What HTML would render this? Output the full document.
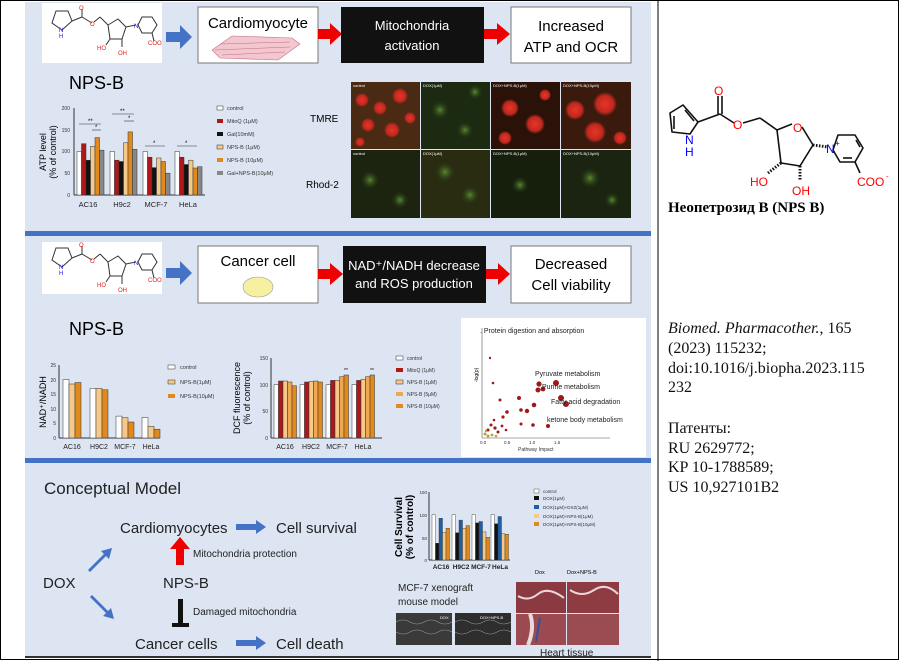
<!DOCTYPE html>
<html><head><meta charset="utf-8"><style>
html,body{margin:0;padding:0;background:#fff;}
svg{display:block;font-family:"Liberation Sans",sans-serif;}
.serif{font-family:"Liberation Serif","DejaVu Serif",serif;}
</style></head><body>
<svg width="900" height="661" viewBox="0 0 900 661" xmlns="http://www.w3.org/2000/svg">
<defs>
<radialGradient id="rb" cx="50%" cy="50%" r="50%"><stop offset="0" stop-color="#e8342a"/><stop offset="0.7" stop-color="#c0281e"/><stop offset="1" stop-color="#c0281e" stop-opacity="0"/></radialGradient>
<radialGradient id="gb" cx="50%" cy="50%" r="50%"><stop offset="0" stop-color="#5a8a30"/><stop offset="1" stop-color="#1a2a10" stop-opacity="0"/></radialGradient>
</defs>
<rect x="0" y="0" width="900" height="661" fill="#fff"/>
<rect x="25" y="2" width="626" height="655" fill="#dde5f3"/>
<rect x="25" y="231" width="626" height="5" fill="#4472c4"/>
<rect x="25" y="458" width="626" height="5" fill="#4472c4"/>
<rect x="25" y="656" width="626" height="2" fill="#333"/>
<rect x="0.5" y="0.5" width="898" height="659" fill="none" stroke="#000"/>
<line x1="658" y1="0" x2="658" y2="661" stroke="#000"/>

<!-- ===== Section 1 ===== -->
<rect x="42" y="3" width="120" height="60" fill="#fff"/>
<g transform="translate(42,3)" stroke="#333" stroke-width="1" fill="none">
<polygon points="30,18 26,8 14,8 10,20 20,27"/><line x1="30" y1="18" x2="40" y2="14"/><line x1="40" y1="14" x2="40" y2="6"/><line x1="40" y1="14" x2="50" y2="20"/><line x1="52" y1="19" x2="58" y2="14"/><line x1="58" y1="14" x2="66" y2="22"/>
<polygon points="66,22 76,16 84,24 80,36 68,36"/><line x1="84" y1="24" x2="94" y2="22"/><polygon points="96,22 100,14 110,14 115,22 110,30 100,30"/><line x1="110" y1="30" x2="112" y2="38"/><line x1="68" y1="36" x2="64" y2="42"/><line x1="80" y1="36" x2="80" y2="44"/>
</g>
<g font-size="6" fill="#e02020"><text x="79" y="10">O</text><text x="90" y="26">O</text><text x="97" y="50">HO</text><text x="118" y="55">OH</text><text x="148" y="45">COO</text></g>
<g font-size="6" fill="#2020e0"><text x="59" y="32">N</text><text x="59" y="38">H</text><text x="134" y="28">N</text></g>

<path d="M166,44 h14 v-7 l12,12 l-12,12 v-7 h-14z" fill="#4472c4" transform="translate(0,-12)"/>
<rect x="198" y="7" width="120" height="56" fill="#fff" stroke="#777"/>
<text x="258" y="28" font-size="15" text-anchor="middle">Cardiomyocyte</text>
<g fill="#f3c6d0" stroke="#c07088" stroke-width="0.6"><path d="M212,50 l20,-14 l60,2 l8,6 l-22,16 l-58,-2z"/></g>
<g stroke="#c07088" stroke-width="0.5"><line x1="220" y1="44" x2="290" y2="42"/><line x1="215" y1="50" x2="290" y2="47"/><line x1="222" y1="55" x2="285" y2="52"/></g>
<rect x="318" y="29" width="15" height="10" fill="#e00"/><polygon points="330,23 342,34 330,45" fill="#e00"/>
<rect x="341" y="7" width="143" height="56" fill="#111"/>
<text x="412" y="30" font-size="13" fill="#fff" text-anchor="middle">Mitochondria</text>
<text x="412" y="50" font-size="13" fill="#fff" text-anchor="middle">activation</text>
<rect x="484" y="29" width="15" height="10" fill="#e00"/><polygon points="497,23 510,34 497,45" fill="#e00"/>
<rect x="511" y="7" width="120" height="56" fill="#fff" stroke="#777"/>
<text x="571" y="31" font-size="15" text-anchor="middle">Increased</text>
<text x="571" y="52" font-size="15" text-anchor="middle">ATP and OCR</text>
<text x="69" y="89" font-size="18">NPS-B</text>

<!-- ATP chart -->
<g font-size="5" fill="#333"><text x="70" y="110" text-anchor="end">200</text><text x="70" y="132" text-anchor="end">150</text><text x="70" y="153" text-anchor="end">100</text><text x="70" y="175" text-anchor="end">50</text><text x="70" y="197" text-anchor="end">0</text></g>
<text transform="translate(46,152) rotate(-90)" font-size="9" text-anchor="middle">ATP level</text>
<text transform="translate(56,152) rotate(-90)" font-size="9" text-anchor="middle">(% of control)</text>
<line x1="74" y1="108" x2="74" y2="195" stroke="#333"/><line x1="74" y1="195" x2="205" y2="195" stroke="#333"/>
<g stroke="#333" stroke-width="0.5">
<rect x="77" y="151.5" width="4.5" height="43.5" fill="#fff"/><rect x="81.5" y="143.7" width="4.5" height="51.3" fill="#b01818"/><rect x="86" y="160.2" width="4.5" height="34.8" fill="#111"/><rect x="90.5" y="146.3" width="4.5" height="48.7" fill="#f5c98a"/><rect x="95" y="137.6" width="4.5" height="57.4" fill="#e08a1e"/><rect x="99.5" y="150.2" width="4.5" height="44.8" fill="#888"/>
<rect x="110" y="151.5" width="4.5" height="43.5" fill="#fff"/><rect x="114.5" y="160.2" width="4.5" height="34.8" fill="#b01818"/><rect x="119" y="161.5" width="4.5" height="33.5" fill="#111"/><rect x="123.5" y="142.8" width="4.5" height="52.2" fill="#f5c98a"/><rect x="128" y="131.9" width="4.5" height="63.1" fill="#e08a1e"/><rect x="132.5" y="149.3" width="4.5" height="45.7" fill="#888"/>
<rect x="143" y="151.5" width="4.5" height="43.5" fill="#fff"/><rect x="147.5" y="157.2" width="4.5" height="37.8" fill="#b01818"/><rect x="152" y="167.6" width="4.5" height="27.4" fill="#111"/><rect x="156.5" y="158" width="4.5" height="37" fill="#f5c98a"/><rect x="161" y="161.5" width="4.5" height="33.5" fill="#e08a1e"/><rect x="165.5" y="173.2" width="4.5" height="21.8" fill="#888"/>
<rect x="175" y="151.5" width="4.5" height="43.5" fill="#fff"/><rect x="179.5" y="157.2" width="4.5" height="37.8" fill="#b01818"/><rect x="184" y="164.5" width="4.5" height="30.5" fill="#111"/><rect x="188.5" y="160.2" width="4.5" height="34.8" fill="#f5c98a"/><rect x="193" y="168" width="4.5" height="27" fill="#e08a1e"/><rect x="197.5" y="166.7" width="4.5" height="28.3" fill="#888"/>
</g>
<g stroke="#333" stroke-width="0.6"><line x1="79" y1="124" x2="101" y2="124"/><line x1="92" y1="130" x2="101" y2="130"/><line x1="112" y1="114" x2="134" y2="114"/><line x1="124" y1="121" x2="134" y2="121"/><line x1="145" y1="146" x2="165" y2="146"/><line x1="177" y1="146" x2="197" y2="146"/></g>
<g font-size="6"><text x="88" y="123">**</text><text x="95" y="129">*</text><text x="120" y="113">**</text><text x="128" y="120">*</text><text x="153" y="145">*</text><text x="185" y="145">*</text></g>
<g font-size="7.5" fill="#222"><text x="88" y="207" text-anchor="middle">AC16</text><text x="122" y="207" text-anchor="middle">H9c2</text><text x="156" y="207" text-anchor="middle">MCF-7</text><text x="188" y="207" text-anchor="middle">HeLa</text></g>
<g font-size="5.5" fill="#333">
<rect x="217" y="106" width="6" height="4" fill="#fff" stroke="#333" stroke-width="0.5"/><text x="227" y="110">control</text>
<rect x="217" y="119" width="6" height="4" fill="#b01818"/><text x="227" y="123">MitoQ (1μM)</text>
<rect x="217" y="132" width="6" height="4" fill="#111"/><text x="227" y="136">Gal(10mM)</text>
<rect x="217" y="145" width="6" height="4" fill="#f5c98a" stroke="#333" stroke-width="0.5"/><text x="227" y="149">NPS-B (1μM)</text>
<rect x="217" y="158" width="6" height="4" fill="#e08a1e"/><text x="227" y="162">NPS-B (10μM)</text>
<rect x="217" y="171" width="6" height="4" fill="#888"/><text x="227" y="175">Gal+NPS-B(10μM)</text>
</g>
<text x="310" y="122" font-size="10">TMRE</text>
<text x="306" y="188" font-size="10">Rhod-2</text>
<g>
<rect x="351" y="82" width="69" height="67" fill="#4a2a12"/>
<rect x="421" y="82" width="69" height="67" fill="#1d2a12"/>
<rect x="491" y="82" width="69" height="67" fill="#2a1208"/>
<rect x="561" y="82" width="70" height="67" fill="#3a1a0c"/>
<g fill="url(#rb)"><circle cx="362" cy="100" r="7"/><circle cx="380" cy="108" r="7"/><circle cx="400" cy="96" r="8"/><circle cx="368" cy="125" r="7"/><circle cx="392" cy="130" r="8"/><circle cx="410" cy="118" r="6"/><circle cx="360" cy="142" r="5"/>
<circle cx="510" cy="108" r="9"/><circle cx="535" cy="124" r="10"/><circle cx="505" cy="138" r="7"/><circle cx="545" cy="95" r="6"/>
<circle cx="575" cy="110" r="10"/><circle cx="605" cy="104" r="12"/><circle cx="595" cy="132" r="11"/><circle cx="620" cy="138" r="7"/></g>
<g fill="url(#gb)"><circle cx="440" cy="110" r="10"/><circle cx="465" cy="130" r="9"/><circle cx="475" cy="92" r="8"/></g>
<rect x="351" y="150" width="69" height="68" fill="#1c2410"/>
<rect x="421" y="150" width="69" height="68" fill="#2a2c12"/>
<rect x="491" y="150" width="69" height="68" fill="#161e0c"/>
<rect x="561" y="150" width="70" height="68" fill="#1a2410"/>
<g fill="url(#gb)"><circle cx="370" cy="180" r="10"/><circle cx="400" cy="200" r="9"/><circle cx="445" cy="172" r="11"/><circle cx="470" cy="195" r="10"/><circle cx="520" cy="185" r="9"/><circle cx="590" cy="178" r="11"/><circle cx="612" cy="200" r="8"/></g>
<g font-size="4" fill="#fff"><text x="353" y="87">control</text><text x="423" y="87">DOX(1μM)</text><text x="493" y="87">DOX+NPS-B(1μM)</text><text x="563" y="87">DOX+NPS-B(10μM)</text>
<text x="353" y="155">control</text><text x="423" y="155">DOX(1μM)</text><text x="493" y="155">DOX+NPS-B(1μM)</text><text x="563" y="155">DOX+NPS-B(10μM)</text></g>
</g>

<!-- ===== Section 2 ===== -->
<rect x="42" y="242" width="120" height="52" fill="#fff"/>
<g transform="translate(42,240)" stroke="#333" stroke-width="1" fill="none">
<polygon points="30,18 26,8 14,8 10,20 20,27"/><line x1="30" y1="18" x2="40" y2="14"/><line x1="40" y1="14" x2="40" y2="6"/><line x1="40" y1="14" x2="50" y2="20"/><line x1="52" y1="19" x2="58" y2="14"/><line x1="58" y1="14" x2="66" y2="22"/>
<polygon points="66,22 76,16 84,24 80,36 68,36"/><line x1="84" y1="24" x2="94" y2="22"/><polygon points="96,22 100,14 110,14 115,22 110,30 100,30"/><line x1="110" y1="30" x2="112" y2="38"/><line x1="68" y1="36" x2="64" y2="42"/><line x1="80" y1="36" x2="80" y2="44"/>
</g>
<g font-size="6" fill="#e02020"><text x="79" y="247">O</text><text x="90" y="263">O</text><text x="97" y="287">HO</text><text x="118" y="292">OH</text><text x="148" y="282">COO</text></g>
<g font-size="6" fill="#2020e0"><text x="59" y="269">N</text><text x="59" y="275">H</text><text x="134" y="265">N</text></g>
<path d="M166,268 h14 v-7 l12,12 l-12,12 v-7 h-14z" fill="#4472c4"/>
<rect x="198" y="246" width="120" height="57" fill="#fff" stroke="#777"/>
<text x="258" y="266" font-size="15" text-anchor="middle">Cancer cell</text>
<ellipse cx="258" cy="287" rx="15" ry="10" fill="#f7f0a0" stroke="#999" stroke-width="0.6"/>
<rect x="318" y="269" width="15" height="10" fill="#e00"/><polygon points="330,263 343,274 330,285" fill="#e00"/>
<rect x="343" y="246" width="143" height="57" fill="#111"/>
<text x="414" y="270" font-size="13" fill="#fff" text-anchor="middle">NAD⁺/NADH decrease</text>
<text x="414" y="288" font-size="13" fill="#fff" text-anchor="middle">and ROS production</text>
<rect x="486" y="269" width="14" height="10" fill="#e00"/><polygon points="498,263 510,274 498,285" fill="#e00"/>
<rect x="511" y="246" width="120" height="57" fill="#fff" stroke="#777"/>
<text x="571" y="269" font-size="15" text-anchor="middle">Decreased</text>
<text x="571" y="290" font-size="15" text-anchor="middle">Cell viability</text>
<text x="69" y="335" font-size="18">NPS-B</text>

<text transform="translate(46,402) rotate(-90)" font-size="9" text-anchor="middle">NAD⁺/NADH</text>
<g font-size="5" fill="#333" text-anchor="end"><text x="56" y="367">25</text><text x="56" y="382">20</text><text x="56" y="396">15</text><text x="56" y="411">10</text><text x="56" y="425">5</text><text x="56" y="440">0</text></g>
<line x1="59" y1="365" x2="59" y2="438" stroke="#333"/><line x1="59" y1="438" x2="160" y2="438" stroke="#333"/>
<g stroke="#333" stroke-width="0.5">
<rect x="63" y="379.6" width="6" height="58.4" fill="#fff"/><rect x="69" y="384" width="6" height="54" fill="#f5c98a"/><rect x="75" y="382.5" width="6" height="55.5" fill="#e08a1e"/>
<rect x="90" y="388.4" width="6" height="49.6" fill="#fff"/><rect x="96" y="388.4" width="6" height="49.6" fill="#f5c98a"/><rect x="102" y="389.8" width="6" height="48.2" fill="#e08a1e"/>
<rect x="116" y="416.1" width="6" height="21.9" fill="#fff"/><rect x="122" y="417.6" width="6" height="20.4" fill="#f5c98a"/><rect x="128" y="422" width="6" height="16" fill="#e08a1e"/>
<rect x="142" y="417.6" width="6" height="20.4" fill="#fff"/><rect x="148" y="426.3" width="6" height="11.7" fill="#f5c98a"/><rect x="154" y="429.2" width="6" height="8.8" fill="#e08a1e"/>
</g>
<g font-size="7" fill="#222" text-anchor="middle"><text x="72" y="449">AC16</text><text x="99" y="449">H9C2</text><text x="125" y="449">MCF-7</text><text x="151" y="449">HeLa</text></g>
<g font-size="5.5" fill="#333">
<rect x="168" y="365" width="7" height="4" fill="#fff" stroke="#333" stroke-width="0.5"/><text x="180" y="369">control</text>
<rect x="168" y="380" width="7" height="4" fill="#f5c98a" stroke="#333" stroke-width="0.5"/><text x="180" y="384">NPS-B(1μM)</text>
<rect x="168" y="394" width="7" height="4" fill="#e08a1e"/><text x="180" y="398">NPS-B(10μM)</text></g>

<text transform="translate(240,398) rotate(-90)" font-size="9" text-anchor="middle">DCF fluorescence</text>
<text transform="translate(250,398) rotate(-90)" font-size="9" text-anchor="middle">(% of control)</text>
<g font-size="5" fill="#333" text-anchor="end"><text x="268" y="360">150</text><text x="268" y="387">100</text><text x="268" y="413">50</text><text x="268" y="440">0</text></g>
<line x1="271" y1="358" x2="271" y2="438" stroke="#333"/><line x1="271" y1="438" x2="382" y2="438" stroke="#333"/>
<g stroke="#333" stroke-width="0.5">
<rect x="274" y="384.7" width="4.5" height="53.3" fill="#fff"/><rect x="278.5" y="381" width="4.5" height="57" fill="#b01818"/><rect x="283" y="381" width="4.5" height="57" fill="#f5c98a"/><rect x="287.5" y="382" width="4.5" height="56" fill="#f0a850"/><rect x="292" y="385.8" width="4.5" height="52.2" fill="#e08a1e"/>
<rect x="300" y="384.7" width="4.5" height="53.3" fill="#fff"/><rect x="304.5" y="382" width="4.5" height="56" fill="#b01818"/><rect x="309" y="381.5" width="4.5" height="56.5" fill="#f5c98a"/><rect x="313.5" y="381" width="4.5" height="57" fill="#f0a850"/><rect x="318" y="382" width="4.5" height="56" fill="#e08a1e"/>
<rect x="326" y="384.7" width="4.5" height="53.3" fill="#fff"/><rect x="330.5" y="380.4" width="4.5" height="57.6" fill="#b01818"/><rect x="335" y="380.4" width="4.5" height="57.6" fill="#f5c98a"/><rect x="339.5" y="376.7" width="4.5" height="61.3" fill="#f0a850"/><rect x="344" y="375" width="4.5" height="63" fill="#e08a1e"/>
<rect x="352" y="384.7" width="4.5" height="53.3" fill="#fff"/><rect x="356.5" y="380.4" width="4.5" height="57.6" fill="#b01818"/><rect x="361" y="379.4" width="4.5" height="58.6" fill="#f5c98a"/><rect x="365.5" y="376.7" width="4.5" height="61.3" fill="#f0a850"/><rect x="370" y="375" width="4.5" height="63" fill="#e08a1e"/>
</g>
<g font-size="5"><text x="344" y="372">**</text><text x="370" y="372">**</text></g>
<g font-size="7" fill="#222" text-anchor="middle"><text x="285" y="449">AC16</text><text x="311" y="449">H9C2</text><text x="337" y="449">MCF-7</text><text x="363" y="449">HeLa</text></g>
<g font-size="5" fill="#333">
<rect x="396" y="356" width="7" height="4" fill="#fff" stroke="#333" stroke-width="0.5"/><text x="407" y="360">control</text>
<rect x="396" y="368" width="7" height="4" fill="#b01818"/><text x="407" y="372">MitoQ (1μM)</text>
<rect x="396" y="380" width="7" height="4" fill="#f5c98a" stroke="#333" stroke-width="0.5"/><text x="407" y="384">NPS-B (1μM)</text>
<rect x="396" y="392" width="7" height="4" fill="#f0a850"/><text x="407" y="396">NPS-B (5μM)</text>
<rect x="396" y="404" width="7" height="4" fill="#e08a1e"/><text x="407" y="408">NPS-B (10μM)</text></g>

<rect x="461" y="318" width="185" height="139" fill="#fff"/>
<line x1="482" y1="328" x2="482" y2="438" stroke="#555" stroke-width="0.6"/><line x1="482" y1="438" x2="610" y2="438" stroke="#555" stroke-width="0.6"/>
<text transform="translate(478,375) rotate(-90)" font-size="5" text-anchor="middle">-log(p)</text>
<g font-size="4.5" fill="#333"><text x="480" y="444">0.0</text><text x="504" y="444">0.5</text><text x="529" y="444">1.0</text><text x="554" y="444">1.5</text><text x="518" y="451" font-size="5">Pathway Impact</text></g>
<g fill="#a01818"><circle cx="490" cy="358" r="1.2"/><circle cx="493" cy="383" r="1.3"/><circle cx="500" cy="400" r="1.5"/><circle cx="503" cy="417" r="1.6"/><circle cx="507" cy="412" r="1.8"/><circle cx="519" cy="398" r="2"/><circle cx="521" cy="410" r="1.8"/><circle cx="527" cy="411" r="2.2"/><circle cx="534" cy="405" r="2.3"/><circle cx="538" cy="390" r="2.5"/><circle cx="539" cy="384" r="2.6"/><circle cx="543" cy="389" r="2.4"/><circle cx="556" cy="383" r="3"/><circle cx="548" cy="426" r="2"/><circle cx="521" cy="424" r="1.5"/><circle cx="533" cy="425" r="1.8"/><circle cx="561" cy="398" r="3"/><circle cx="566" cy="404" r="3"/>
<circle cx="488" cy="430" r="1.5"/><circle cx="491" cy="425" r="1.5"/><circle cx="495" cy="428" r="1.6"/><circle cx="498" cy="432" r="1.5"/><circle cx="502" cy="426" r="1.4"/><circle cx="494" cy="420" r="1.3"/><circle cx="506" cy="430" r="1.3"/></g>
<g fill="#b8a040"><circle cx="485" cy="434" r="1.5"/><circle cx="488" cy="436" r="1.5"/><circle cx="492" cy="435" r="1.4"/><circle cx="496" cy="436" r="1.3"/><circle cx="486" cy="431" r="1.2"/></g>
<g font-size="7" fill="#222"><text x="480" y="333">. Protein digestion and absorption</text><text x="535" y="376">Pyruvate metabolism</text><text x="542" y="389">Purine metabolism</text><text x="551" y="404">Fatty acid degradation</text><text x="547" y="422">ketone body metabolism</text></g>

<!-- ===== Section 3 ===== -->
<text x="44" y="494" font-size="17" fill="#222">Conceptual Model</text>
<text x="120" y="533" font-size="15" fill="#222">Cardiomyocytes</text>
<path d="M236,524 h20 v-4 l10,7 l-10,7 v-4 h-20z" fill="#4472c4"/>
<text x="276" y="533" font-size="15" fill="#222">Cell survival</text>
<path d="M176,565 v-16 h-6 l10,-12 l10,12 h-6 v16z" fill="#e00"/>
<text x="193" y="557" font-size="10" fill="#222">Mitochondria protection</text>
<text x="43" y="588" font-size="15" fill="#222">DOX</text>
<text x="163" y="588" font-size="15" fill="#222">NPS-B</text>
<path d="M88,570 l16,-16 l-3,-3 l11,-3 l-3,11 l-3,-3 l-16,16z" fill="#4472c4"/>
<path d="M90,597 l16,16 l-3,3 l11,3 l-3,-11 l-3,3 l-16,-16z" fill="#4472c4"/>
<rect x="178" y="599" width="5" height="25" fill="#111"/><rect x="172" y="623" width="17" height="4" fill="#111"/>
<text x="193" y="615" font-size="10" fill="#222">Damaged mitochondria</text>
<text x="135" y="649" font-size="15" fill="#222">Cancer cells</text>
<path d="M236,640 h20 v-4 l10,7 l-10,7 v-4 h-20z" fill="#4472c4"/>
<text x="276" y="649" font-size="15" fill="#222">Cell death</text>

<text transform="translate(402,527) rotate(-90)" font-size="10" font-weight="bold" text-anchor="middle">Cell Survival</text>
<text transform="translate(413,527) rotate(-90)" font-size="10" font-weight="bold" text-anchor="middle">(% of control)</text>
<g font-size="4.5" fill="#333" text-anchor="end"><text x="427" y="494">150</text><text x="427" y="517">100</text><text x="427" y="540">50</text><text x="427" y="562">0</text></g>
<line x1="429" y1="492" x2="429" y2="560" stroke="#333"/><line x1="429" y1="560" x2="510" y2="560" stroke="#333"/>
<g stroke="#333" stroke-width="0.4">
<rect x="432" y="514.7" width="3.5" height="45.3" fill="#fff"/><rect x="435.5" y="543.2" width="3.5" height="16.8" fill="#111"/><rect x="439" y="518.3" width="3.5" height="41.7" fill="#1f5fa8"/><rect x="442.5" y="532.8" width="3.5" height="27.2" fill="#f5c98a"/><rect x="446" y="528.3" width="3.5" height="31.7" fill="#e08a1e"/>
<rect x="452" y="514.7" width="3.5" height="45.3" fill="#fff"/><rect x="455.5" y="532.8" width="3.5" height="27.2" fill="#111"/><rect x="459" y="520.1" width="3.5" height="39.9" fill="#1f5fa8"/><rect x="462.5" y="528.3" width="3.5" height="31.7" fill="#f5c98a"/><rect x="466" y="525.6" width="3.5" height="34.4" fill="#e08a1e"/>
<rect x="472" y="514.7" width="3.5" height="45.3" fill="#fff"/><rect x="475.5" y="522.9" width="3.5" height="37.1" fill="#111"/><rect x="479" y="521.5" width="3.5" height="38.5" fill="#1f5fa8"/><rect x="482.5" y="531.9" width="3.5" height="28.1" fill="#f5c98a"/><rect x="486" y="537.3" width="3.5" height="22.7" fill="#e08a1e"/>
<rect x="491" y="514.7" width="3.5" height="45.3" fill="#fff"/><rect x="494.5" y="523.8" width="3.5" height="36.2" fill="#111"/><rect x="498" y="516.5" width="3.5" height="43.5" fill="#1f5fa8"/><rect x="501.5" y="533.7" width="3.5" height="26.3" fill="#f5c98a"/><rect x="505" y="534.2" width="3.5" height="25.8" fill="#e08a1e"/>
</g>
<g font-size="6.5" font-weight="bold" fill="#222" text-anchor="middle"><text x="441" y="569">AC16</text><text x="461" y="569">H9C2</text><text x="481" y="569">MCF-7</text><text x="500" y="569">HeLa</text></g>
<g font-size="4.5" fill="#333">
<rect x="534" y="489" width="5" height="4" fill="#fff" stroke="#333" stroke-width="0.4"/><text x="543" y="493">control</text>
<rect x="534" y="496" width="5" height="4" fill="#111"/><text x="543" y="500">DOX(1μM)</text>
<rect x="534" y="505" width="5" height="4" fill="#1f5fa8"/><text x="543" y="509">DOX(1μM)+DXZ(1μM)</text>
<rect x="534" y="514" width="5" height="4" fill="#f5c98a"/><text x="543" y="518">DOX(1μM)+NPS-B(1μM)</text>
<rect x="534" y="522" width="5" height="4" fill="#e08a1e"/><text x="543" y="526">DOX(1μM)+NPS-B(10μM)</text></g>
<text x="398" y="591" font-size="10" fill="#222">MCF-7 xenograft</text>
<text x="398" y="605" font-size="10" fill="#222">mouse model</text>
<rect x="396" y="613" width="56" height="32" fill="#3a3a3a"/><rect x="455" y="613" width="56" height="32" fill="#2e2e2e"/>
<g stroke="#999" stroke-width="0.6" fill="none"><path d="M396,622 q7,-4 14,0 t14,0 t14,0 t14,0"/><path d="M396,632 q7,4 14,0 t14,0 t14,0 t14,0"/><path d="M455,622 q7,-4 14,0 t14,0 t14,0 t14,0"/><path d="M455,632 q7,4 14,0 t14,0 t14,0 t14,0"/></g>
<g font-size="4" fill="#fff"><text x="440" y="619">DOX</text><text x="480" y="619">DOX+NPS-B</text></g>
<text x="535" y="574" font-size="5.5">Dox</text><text x="567" y="574" font-size="5.5">Dox+NPS-B</text>
<rect x="516" y="582" width="50" height="31" fill="#8a3a40"/><rect x="567" y="582" width="52" height="31" fill="#8e3c42"/>
<rect x="516" y="614" width="50" height="31" fill="#9a4a50"/><rect x="567" y="614" width="52" height="31" fill="#9a4c52"/>
<path d="M518,596 q10,6 20,-2 t26,4" stroke="#e8d8d8" stroke-width="2" fill="none"/><path d="M570,590 q12,8 24,0 t24,4" stroke="#e8d8d8" stroke-width="2" fill="none"/>
<path d="M530,614 q5,14 -2,31" stroke="#e8dada" stroke-width="4" fill="none"/><path d="M540,618 l-4,24" stroke="#3050a0" stroke-width="2"/>
<text x="540" y="656" font-size="10" fill="#222">Heart tissue</text>

<!-- ===== Right panel molecule ===== -->
<g stroke="#111" stroke-width="1.6" fill="none" stroke-linejoin="round">
<polygon points="670,113 683,105 698,122 690,134 672,132"/>
<line x1="674" y1="116" x2="674" y2="129"/><line x1="685" y1="110" x2="694" y2="121"/>
<line x1="698" y1="122" x2="720" y2="114"/>
<line x1="718" y1="114" x2="718" y2="96"/><line x1="722" y1="114" x2="722" y2="96"/>
<line x1="720" y1="114" x2="734" y2="123"/>
<line x1="743" y1="123" x2="760" y2="118"/>
<line x1="760" y1="118" x2="777" y2="130"/>
<line x1="777" y1="130" x2="792" y2="124"/><line x1="802" y1="127" x2="813" y2="145"/>
<line x1="813" y1="145" x2="800" y2="166"/><line x1="800" y1="166" x2="781" y2="163"/><line x1="781" y1="163" x2="777" y2="130"/>
<line x1="781" y1="163" x2="768" y2="173" stroke-dasharray="1.5,1.5" stroke-width="3"/>
<line x1="800" y1="166" x2="800" y2="180" stroke-dasharray="1.5,1.5" stroke-width="3"/>
<line x1="813" y1="145" x2="828" y2="147" stroke-dasharray="1.5,1.5" stroke-width="3"/>
<polygon points="838,135 855,135 863,148 855,162 840,162 833,150"/>
<line x1="856" y1="140" x2="860" y2="147"/><line x1="852" y1="158" x2="843" y2="158"/>
<line x1="855" y1="162" x2="860" y2="173"/>
</g>
<g font-family="Liberation Sans,sans-serif" font-size="12" fill="#ff0000">
<text x="714" y="95">O</text><text x="733" y="129">O</text><text x="793" y="132">O</text>
<text x="750" y="186">HO</text><text x="792" y="195">OH</text>
<text x="857" y="186">COO</text><text x="886" y="179" font-size="8">-</text></g>
<g font-family="Liberation Sans,sans-serif" font-size="12" fill="#0000ff"><text x="685" y="144">N</text><text x="685" y="156">H</text><text x="826" y="153">N</text><text x="835" y="146" font-size="8">+</text></g>
<text x="668" y="212" class="serif" font-size="15" font-weight="bold">Неопетрозид B (NPS B)</text>
<g class="serif" font-size="16" fill="#111">
<text x="668" y="333"><tspan font-style="italic">Biomed. Pharmacother.</tspan>, 165</text>
<text x="668" y="353">(2023) 115232;</text>
<text x="668" y="373">doi:10.1016/j.biopha.2023.115</text>
<text x="668" y="392">232</text>
<text x="668" y="433">Патенты:</text>
<text x="668" y="453">RU 2629772;</text>
<text x="668" y="472">KP 10-1788589;</text>
<text x="668" y="492">US 10,927101B2</text>
</g>
</svg>
</body></html>
